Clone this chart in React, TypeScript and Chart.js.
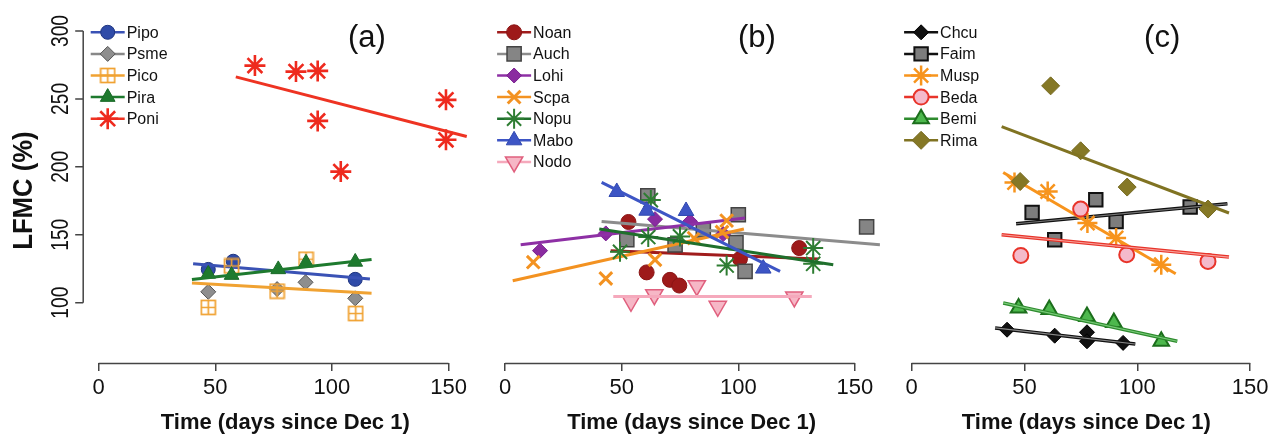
import React, { useEffect, useRef } from "react";
import { Chart, registerables } from "chart.js";
import { drawPoint } from "chart.js/helpers";

Chart.register(...registerables);

const W = 1288;
const H = 437;
const FONT = "'Liberation Sans', Arial, Helvetica, sans-serif";

// ---- axes / text ----
const xTicks = [0, 50, 100, 150];
const yTicks = [100, 150, 200, 250, 300];
const yTitle = "LFMC (%)";
const xTitle = "Time (days since Dec 1)";
const panelLabels = ["(a)", "(b)", "(c)"];

// ---- panel (a) ----
const namesA = ["Pipo", "Psme", "Pico", "Pira", "Poni"];
const xA = [
  [47, 57.7, 110],
  [47, 76.5, 88.7, 110],
  [47, 57, 76.5, 88.9, 110.2],
  [47, 57, 77, 88.9, 110],
  [67, 84.6, 93.9, 93.9, 103.8, 148.9, 148.9],
];
const yA = [
  [124.5, 130.5, 117.2],
  [108, 110, 115, 103.2],
  [96.5, 127, 108.5, 132, 92],
  [121.2, 120.3, 124.5, 129.4, 130],
  [274.5, 270.1, 270.6, 233.8, 196.5, 249.3, 219.9],
];
const fitXA = [[40.5, 116.3], [], [40, 117], [40, 117], [58.8, 157.8]];
const fitYA = [[128.7, 117.4], [], [114.5, 107], [117, 131.8], [266.2, 222.3]];

// ---- panel (b) ----
const namesB = ["Noan", "Auch", "Lohi", "Scpa", "Nopu", "Mabo", "Nodo"];
const xB = [
  [52.9, 60.7, 70.7, 74.7, 100.7, 126.1],
  [52.2, 61.2, 72.9, 85, 99, 100, 102.9, 155],
  [15, 43.2, 64.3, 79.3, 93.5],
  [12.1, 43.2, 64.3, 81, 93, 95],
  [49.3, 62.5, 61.4, 75, 95, 132.1, 132.1],
  [47.9, 60.7, 77.6, 110.7],
  [54, 64, 82.2, 91.2, 124],
];
const yB = [
  [159.4, 122.3, 116.8, 112.6, 132.2, 140.2],
  [146.3, 178.7, 142.6, 153.5, 144.3, 164.7, 123, 155.8],
  [138.3, 151, 161.5, 159.8, 150.5],
  [129.8, 117.8, 131.6, 147.5, 152, 160.4],
  [137.4, 175.5, 148.3, 148.8, 127.3, 140.2, 128.6],
  [181.5, 167.7, 167.5, 125.1],
  [101, 105.9, 112.5, 97.3, 104.2],
];
const fitXB = [[45.3, 134.3], [41.4, 160.7], [6.7, 102.9], [3.3, 102.4], [40.4, 140.7], [41.4, 117.9], [46.4, 131.5]];
const fitYB = [[138.3, 132.1], [159.8, 142.6], [142.6, 162.3], [116.2, 154.2], [154.2, 127.9], [188.5, 123], [104.6, 104.6]];

// ---- panel (c) ----
const namesC = ["Chcu", "Faim", "Musp", "Beda", "Bemi", "Rima"];
const xC = [
  [42.3, 63.4, 77.7, 77.7, 93.7],
  [53.4, 63.4, 81.6, 90.6, 123.4],
  [45.6, 60.3, 77.9, 90.6, 110.6],
  [48.4, 74.9, 95.3, 131.3],
  [47.4, 61, 77.7, 89.6, 110.6],
  [48.1, 61.6, 74.9, 95.5, 131.3],
];
const yC = [
  [80.1, 75.7, 78.2, 71.6, 70.4],
  [166.4, 146.3, 175.7, 159.8, 170.4],
  [188.5, 181.8, 158.6, 147.6, 127.9],
  [134.8, 168.9, 135.3, 130.4],
  [96.1, 94.9, 89.9, 85.5, 71.6],
  [189.2, 259.6, 211.8, 185.1, 168.9],
];
const fitXC = [[37, 99.1], [46.3, 139.9], [40.6, 117], [39.9, 140.6], [40.6, 117.7], [39.9, 140.6]];
const fitYC = [[81.4, 69.6], [158.1, 172.8], [195.8, 121.3], [150, 133.6], [99.8, 71.6], [229.6, 166]];

type Sty = {
  marker: any;
  r: number;
  fill: string;
  edge: string;
  bw: number;
  rot?: number;
  line: string;
  inner?: string;
};

function squarePlus(color: string) {
  const c = document.createElement("canvas");
  c.width = 17;
  c.height = 17;
  const g = c.getContext("2d")!;
  g.strokeStyle = color;
  g.lineWidth = 1.7;
  g.strokeRect(1.5, 1.5, 14, 14);
  g.beginPath();
  g.moveTo(8.5, 1.5);
  g.lineTo(8.5, 15.5);
  g.moveTo(1.5, 8.5);
  g.lineTo(15.5, 8.5);
  g.stroke();
  return c;
}

function stylesA(): Sty[] {
  return [
    { marker: "circle", r: 7, fill: "#2F4BA8", edge: "#1F3580", bw: 1, line: "#3A52B5" },
    { marker: "rectRot", r: 7.5, fill: "#8E8E8E", edge: "#555555", bw: 1, line: "#888888" },
    { marker: squarePlus("#F0A232"), r: 8, fill: "rgba(0,0,0,0)", edge: "#F0A232", bw: 1, line: "#F0A232" },
    { marker: "triangle", r: 8.5, fill: "#1E7A2E", edge: "#1A6A28", bw: 1, line: "#1E7A2E" },
    { marker: "star", r: 10.5, fill: "rgba(0,0,0,0)", edge: "#EE2A1E", bw: 2.6, line: "#EE3322" },
  ];
}
function stylesB(): Sty[] {
  return [
    { marker: "circle", r: 7.5, fill: "#9E1A1A", edge: "#8A1515", bw: 1, line: "#A01C1C" },
    { marker: "rect", r: 10, fill: "#858585", edge: "#444444", bw: 1.5, line: "#8C8C8C" },
    { marker: "rectRot", r: 7.5, fill: "#8A2BA0", edge: "#7A2090", bw: 1, line: "#8E30A5" },
    { marker: "crossRot", r: 9, fill: "rgba(0,0,0,0)", edge: "#F39221", bw: 3, line: "#F39221" },
    { marker: "star", r: 10, fill: "rgba(0,0,0,0)", edge: "#2E7D32", bw: 2, line: "#1F6F2C" },
    { marker: "triangle", r: 9, fill: "#3D55C5", edge: "#3048B0", bw: 1, line: "#3D55C5" },
    { marker: "triangle", rot: 180, r: 10, fill: "#F6B7C6", edge: "#E0607E", bw: 1.5, line: "#F5A9BC" },
  ];
}
function stylesC(): Sty[] {
  return [
    { marker: "rectRot", r: 7.5, fill: "#111111", edge: "#000000", bw: 1, line: "#111111", inner: "#8a8a8a" },
    { marker: "rect", r: 9.5, fill: "#7D7D7D", edge: "#111111", bw: 2, line: "#111111", inner: "#777777" },
    { marker: "star", r: 10, fill: "rgba(0,0,0,0)", edge: "#F7941D", bw: 2.5, line: "#F7941D" },
    { marker: "circle", r: 7.5, fill: "#F4BACB", edge: "#E8342A", bw: 2, line: "#E8342A", inner: "#F7A09A" },
    { marker: "triangle", r: 9, fill: "#4DB84D", edge: "#1C6E1C", bw: 2, line: "#2E8B2E", inner: "#7ACC7A" },
    { marker: "rectRot", r: 9, fill: "#857826", edge: "#766A20", bw: 1, line: "#807322" },
  ];
}

type PanelCfg = {
  names: string[];
  xs: number[][];
  ys: number[][];
  fx: number[][];
  fy: number[][];
  styles: () => Sty[];
  left: number;
  right: number;
  xmin: number;
  xmax: number;
  showY: boolean;
  label: string;
  labelX: number;
};

const panels: PanelCfg[] = [
  { names: namesA, xs: xA, ys: yA, fx: fitXA, fy: fitYA, styles: stylesA, left: 83.7, right: 486.8, xmin: -6.4, xmax: 166.4, showY: true, label: panelLabels[0], labelX: 115 },
  { names: namesB, xs: xB, ys: yB, fx: fitXB, fy: fitYB, styles: stylesB, left: 490.1, right: 893.2, xmin: -6.4, xmax: 166.4, showY: false, label: panelLabels[1], labelX: 108 },
  { names: namesC, xs: xC, ys: yC, fx: fitXC, fy: fitYC, styles: stylesC, left: 897.1, right: 1288, xmin: -6.4, xmax: 161.2, showY: false, label: panelLabels[2], labelX: 111 },
];

function buildDatasets(cfg: PanelCfg, sty: Sty[]) {
  const ds: any[] = [];
  cfg.names.forEach((n, i) => {
    const s = sty[i];
    ds.push({
      label: n,
      data: cfg.xs[i].map((x, j) => ({ x, y: cfg.ys[i][j] })),
      showLine: false,
      pointStyle: s.marker,
      pointRadius: s.r,
      pointRotation: s.rot || 0,
      pointBackgroundColor: s.fill,
      pointBorderColor: s.edge,
      pointBorderWidth: s.bw,
      order: 1000 - 4 * i,
    });
    if (cfg.fx[i].length) {
      const fitData = cfg.fx[i].map((x, j) => ({ x, y: cfg.fy[i][j] }));
      ds.push({
        label: n + " fit",
        data: fitData,
        showLine: true,
        borderColor: s.line,
        borderWidth: s.inner ? 3.6 : 3,
        pointRadius: 0,
        order: 1000 - 4 * i - 1,
      });
      if (s.inner) {
        ds.push({
          label: n + " fit inner",
          data: fitData,
          showLine: true,
          borderColor: s.inner,
          borderWidth: 1.2,
          pointRadius: 0,
          order: 1000 - 4 * i - 2,
        });
      }
    }
  });
  return ds;
}

function makeDecor(cfg: PanelCfg, sty: Sty[]) {
  return {
    id: "decor",
    afterDraw(chart: any) {
      const ctx: CanvasRenderingContext2D = chart.ctx;
      const a = chart.chartArea;
      const sx = chart.scales.x;
      const sy = chart.scales.y;
      ctx.save();
      // x axis line (0..150)
      ctx.strokeStyle = "#444";
      ctx.lineWidth = 1.5;
      ctx.beginPath();
      ctx.moveTo(sx.getPixelForValue(xTicks[0]), a.bottom + 0.5);
      ctx.lineTo(sx.getPixelForValue(xTicks[xTicks.length - 1]), a.bottom + 0.5);
      ctx.stroke();

      if (cfg.showY) {
        const ax = a.left - 0.5;
        ctx.beginPath();
        ctx.moveTo(ax, sy.getPixelForValue(yTicks[0]));
        ctx.lineTo(ax, sy.getPixelForValue(yTicks[yTicks.length - 1]));
        yTicks.forEach((v) => {
          const py = sy.getPixelForValue(v);
          ctx.moveTo(ax, py);
          ctx.lineTo(ax - 8, py);
        });
        ctx.stroke();
        ctx.fillStyle = "#111";
        ctx.textAlign = "center";
        ctx.textBaseline = "middle";
        ctx.font = `24px ${FONT}`;
        yTicks.forEach((v) => {
          const py = sy.getPixelForValue(v);
          ctx.save();
          ctx.translate(ax - 22, py);
          ctx.rotate(-Math.PI / 2);
          ctx.scale(0.8, 1);
          ctx.fillText(String(v), 0, 0);
          ctx.restore();
        });
        ctx.save();
        ctx.translate(25, (a.top + a.bottom) / 2);
        ctx.rotate(-Math.PI / 2);
        ctx.scale(0.95, 1);
        ctx.font = `bold 27px ${FONT}`;
        ctx.fillText(yTitle, 0, 0);
        ctx.restore();
      }

      // panel label
      ctx.fillStyle = "#111";
      ctx.font = `31px ${FONT}`;
      ctx.textAlign = "center";
      ctx.textBaseline = "middle";
      ctx.fillText(cfg.label, sx.getPixelForValue(cfg.labelX), 38);

      // legend
      cfg.names.forEach((n, k) => {
        const s = sty[k];
        const y = a.top + 14.1 + k * 21.6;
        const x0 = a.left + 7;
        ctx.strokeStyle = s.line;
        ctx.lineWidth = 2.5;
        ctx.beginPath();
        ctx.moveTo(x0, y);
        ctx.lineTo(x0 + 34, y);
        ctx.stroke();
        ctx.fillStyle = s.fill;
        ctx.strokeStyle = s.edge;
        ctx.lineWidth = s.bw;
        drawPoint(ctx, { pointStyle: s.marker, rotation: s.rot || 0, radius: s.r, borderWidth: s.bw } as any, x0 + 17, y);
        ctx.fillStyle = "#111";
        ctx.font = `16px ${FONT}`;
        ctx.textAlign = "left";
        ctx.textBaseline = "middle";
        ctx.fillText(n, x0 + 36, y + 1);
      });
      ctx.restore();
    },
  };
}

function Panel({ cfg }: { cfg: PanelCfg }) {
  const ref = useRef<HTMLCanvasElement>(null);
  useEffect(() => {
    const sty = cfg.styles();
    const chart = new Chart(ref.current!, {
      type: "scatter",
      data: { datasets: buildDatasets(cfg, sty) },
      options: {
        responsive: false,
        animation: false,
        events: [],
        layout: { padding: { left: cfg.left, right: W - cfg.right, top: 18.2, bottom: 0 } },
        plugins: { legend: { display: false }, tooltip: { enabled: false } },
        scales: {
          x: {
            type: "linear",
            min: cfg.xmin,
            max: cfg.xmax,
            afterBuildTicks: (s: any) => {
              s.ticks = xTicks.map((v) => ({ value: v }));
            },
            afterFit: (s: any) => {
              s.height = 74;
            },
            border: { display: false },
            grid: { drawOnChartArea: false, drawTicks: true, tickLength: 8, color: "#444", lineWidth: 1.5 },
            ticks: { font: { family: FONT, size: 22 }, color: "#111", padding: 4, maxRotation: 0, autoSkip: false },
            title: {
              display: true,
              text: xTitle,
              color: "#111",
              font: { family: FONT, size: 22, weight: "bold" },
              padding: { top: 0, bottom: 1 },
            },
          },
          y: {
            type: "linear",
            display: false,
            min: 55.6,
            max: 309.4,
          },
        },
      } as any,
      plugins: [makeDecor(cfg, sty)],
    });
    return () => chart.destroy();
  }, []);
  return (
    <canvas
      ref={ref}
      width={W}
      height={H}
      style={{ position: "absolute", left: 0, top: 0, width: W, height: H }}
    />
  );
}

export default function App() {
  return (
    <div style={{ position: "fixed", left: 0, top: 0, width: W, height: H, background: "#fff", overflow: "hidden" }}>
      {panels.map((p, i) => (
        <Panel key={i} cfg={p} />
      ))}
    </div>
  );
}
